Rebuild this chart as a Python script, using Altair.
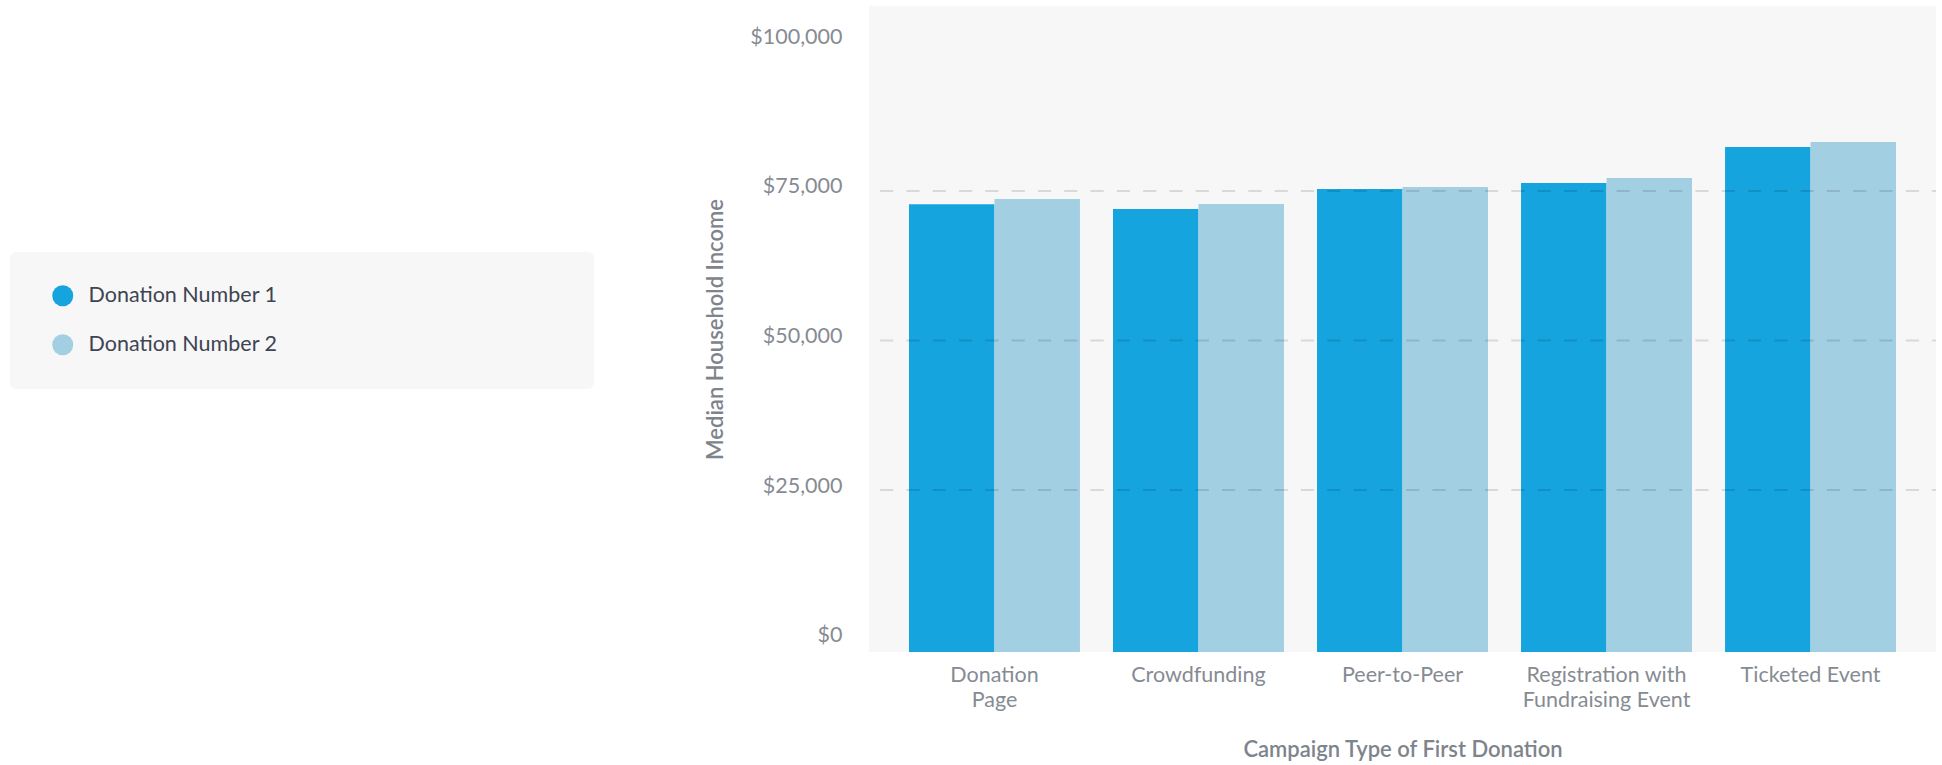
import altair as alt
import pandas as pd

# ---- data ----
categories = [
    "Donation Page",
    "Crowdfunding",
    "Peer-to-Peer",
    "Registration with Fundraising Event",
    "Ticketed Event",
]
series_names = ["Donation Number 1", "Donation Number 2"]
donation_1 = [72800, 72000, 75330, 76340, 82360]
donation_2 = [73660, 72830, 75670, 77170, 83190]
y_ticks = [0, 25000, 50000, 75000, 100000]
grid_values = [25000, 50000, 75000]
series_colors = ["#16a4de", "#a3cfe2"]

# ---- layout constants ----
Y_MIN, Y_MAX = -2090, 105936
W, H = 1067, 646
FONT = "Lato"
AXIS_GRAY = "#868b93"
TITLE_GRAY = "#7e848c"

rows = []
for i, c in enumerate(categories):
    rows.append({"category": c, "series": series_names[0], "value": donation_1[i]})
    rows.append({"category": c, "series": series_names[1], "value": donation_2[i]})
df = pd.DataFrame(rows)
grid_df = pd.DataFrame({"value": grid_values})

label_expr = (
    "datum.label == 'Donation Page' ? ['Donation', 'Page'] : "
    "datum.label == 'Registration with Fundraising Event' ? "
    "['Registration with', 'Fundraising Event'] : datum.label"
)

y_scale = alt.Scale(domain=[Y_MIN, Y_MAX], nice=False, zero=False)
y_axis = alt.Axis(
    title="Median Household Income",
    values=y_ticks,
    format="$,.0f",
    labelFont=FONT,
    labelFontSize=21.5,
    labelColor=AXIS_GRAY,
    labelPadding=27,
    labelOffset=-4,
    ticks=False,
    domain=False,
    grid=False,
    titleFont=FONT,
    titleFontSize=22,
    titleFontWeight=600,
    titleColor=TITLE_GRAY,
    titleAngle=270,
    titleBaseline="alphabetic",
    titleAlign="center",
    titleX=-147,
    titleY=323,
)

bars = alt.Chart(df).mark_bar().encode(
    x=alt.X(
        "category:N",
        sort=categories,
        scale=alt.Scale(paddingInner=0.162, paddingOuter=0.196),
        axis=alt.Axis(
            title="Campaign Type of First Donation",
            labelExpr=label_expr,
            labelAngle=0,
            labelFont=FONT,
            labelFontSize=21.5,
            labelColor=AXIS_GRAY,
            labelPadding=12,
            labelLineHeight=25,
            labelBaseline="top",
            ticks=False,
            domain=False,
            grid=False,
            titleFont=FONT,
            titleFontSize=22,
            titleFontWeight=600,
            titleColor=TITLE_GRAY,
            titleBaseline="alphabetic",
            titleY=104,
        ),
    ),
    xOffset=alt.XOffset("series:N", sort=series_names, scale=alt.Scale(paddingInner=0, paddingOuter=0)),
    y=alt.Y("value:Q", scale=y_scale, axis=y_axis),
    y2=alt.datum(Y_MIN),
    color=alt.Color(
        "series:N",
        sort=series_names,
        scale=alt.Scale(domain=series_names, range=series_colors),
        legend=alt.Legend(
            title=" ",
            titleOrient="right",
            titleFontSize=1,
            titlePadding=284,
            orient="none",
            legendX=-859,
            legendY=246,
            fillColor="#f7f7f7",
            cornerRadius=6,
            padding=33,
            symbolType="circle",
            symbolSize=441,
            symbolStrokeWidth=0,
            symbolOffset=9,
            labelFont=FONT,
            labelFontSize=21.5,
            labelColor="#3e4451",
            labelOffset=15,
            labelLimit=400,
            rowPadding=26,
        ),
    ),
)

rules = alt.Chart(grid_df).mark_rule(
    color="black", opacity=0.12, strokeWidth=2, strokeDash=[13.2, 13.1], strokeDashOffset=9.3
).encode(y=alt.Y("value:Q", scale=y_scale, axis=y_axis))

chart = (
    alt.layer(bars, rules)
    .properties(
        width=W,
        height=H,
        autosize=alt.AutoSizeParams(type="none"),
        padding={"left": 869, "top": 6, "right": 6, "bottom": 113},
        background="white",
    )
    .configure_view(fill="#f7f7f7", stroke=None)
)

chart.save("out.html", embed_options={"renderer": "svg", "actions": False})
